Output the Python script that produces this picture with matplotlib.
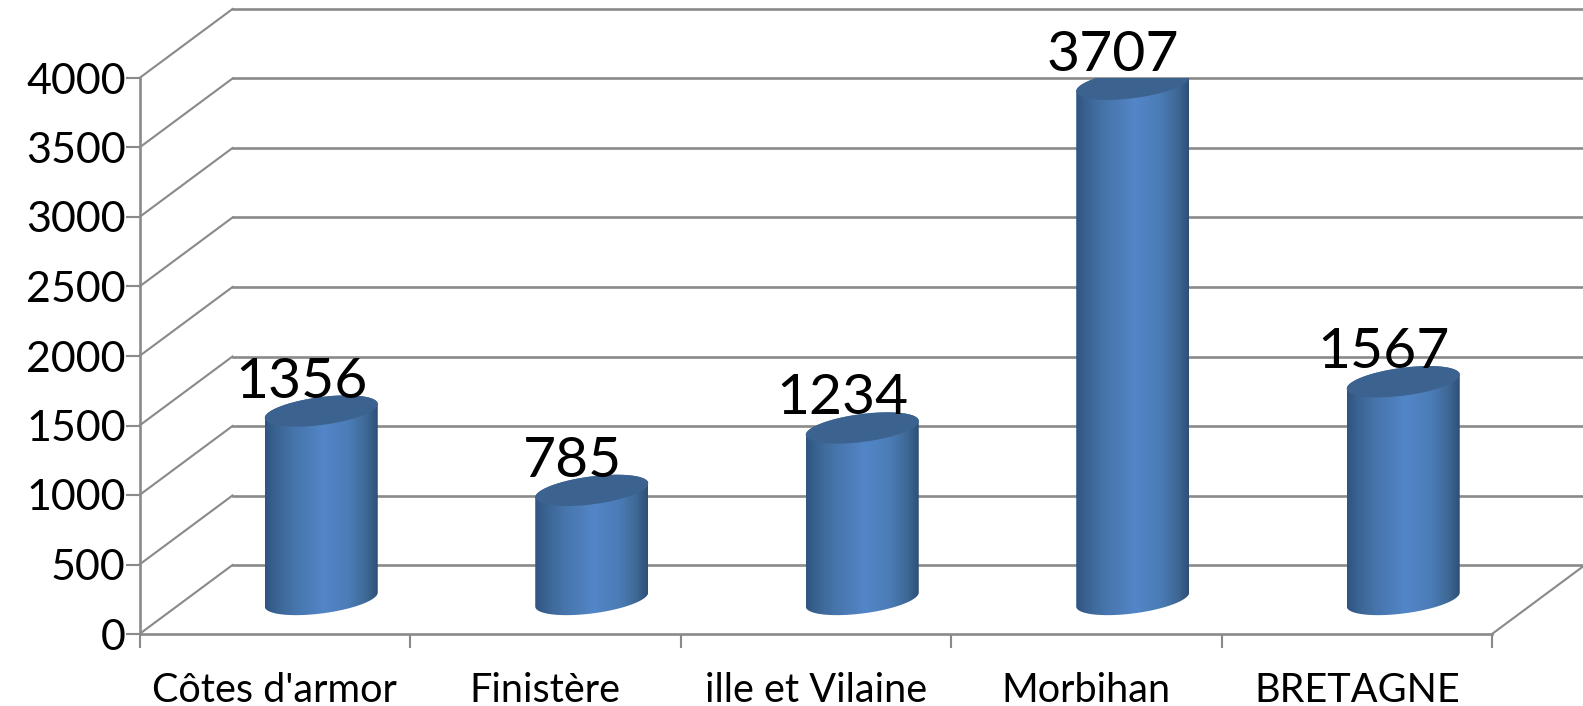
# -*- coding: utf-8 -*-
# 3D-look cylinder chart, Bretagne departments
import numpy as np
import matplotlib
matplotlib.use('Agg')
import matplotlib.pyplot as plt
from matplotlib.colors import LinearSegmentedColormap
from matplotlib.patches import PathPatch
from matplotlib.path import Path
from matplotlib.transforms import Affine2D

plt.rcParams['font.family'] = ['Lato', 'DejaVu Sans']

categories = ["Côtes d'armor", "Finistère", "ille et Vilaine", "Morbihan", "BRETAGNE"]
values = [1356, 785, 1234, 3707, 1567]
y_ticks = [0, 500, 1000, 1500, 2000, 2500, 3000, 3500, 4000]

W, H = 1583, 706
DEPTH_X, DEPTH_Y = 93.0, 69.0  # px, front plane to back wall
GRID = '#8a8a8a'
LW = 1.9

fig = plt.figure(figsize=(W / 100, H / 100), dpi=100, facecolor='white')
left, right, y0, y4000 = 139.5, 1492.0, 634.0, 78.0
ax = fig.add_axes([left / W, 1 - y0 / H, (right - left) / W, (y0 - y4000) / H])
ax.patch.set_visible(False)

back_tr = ax.transData + Affine2D().translate(DEPTH_X, DEPTH_Y)
mid_tr = ax.transData + Affine2D().translate(DEPTH_X / 2, DEPTH_Y / 2)

n = len(categories)
px_x = (right - left) / n
px_y = (y0 - y4000) / 4000.0

# back wall lines and the diagonals on the side wall
for v in y_ticks:
    ax.plot([0, n], [v, v], color=GRID, lw=LW, transform=back_tr, clip_on=False, zorder=1)
    ax.plot([0, DEPTH_X / px_x], [v, v + DEPTH_Y / px_y], color=GRID, lw=LW * 0.8,
            clip_on=False, zorder=1)
# floor, right edge
ax.plot([n, n + DEPTH_X / px_x], [0, DEPTH_Y / px_y], color=GRID, lw=LW * 0.8,
        clip_on=False, zorder=1)

# cylinders
cmap = LinearSegmentedColormap.from_list('cyl', [
    (0.0, '#2f5480'), (0.10, '#3a6492'), (0.25, '#4674aa'), (0.52, '#5386c8'),
    (0.75, '#4b7cb6'), (0.90, '#3e6895'), (1.0, '#2d4f76')])
grad = np.linspace(0, 1, 256).reshape(1, -1)
half_w = 56.5 / px_x
b_px, s_px = 14.0, 7.0
t = np.linspace(0, 2 * np.pi, 121)
for i, v in enumerate(values):
    cx = i + 0.5
    ex = half_w * np.cos(t)
    ey = (b_px * np.sin(t) + s_px * np.cos(t)) / px_y
    # body outline: lower half of base ellipse, then up to top ellipse
    low = t[60:121]  # from left side round the bottom to the right side
    xb = cx + half_w * np.cos(low)
    yb = (b_px * np.sin(low) + s_px * np.cos(low)) / px_y
    up = np.linspace(0, np.pi, 61)
    xt = cx + half_w * np.cos(up)
    yt = v + (b_px * np.sin(up) + s_px * np.cos(up)) / px_y
    body = Path(np.column_stack([np.r_[xb, xt], np.r_[yb, yt]]))
    clip = PathPatch(body, transform=mid_tr, facecolor='none', edgecolor='none')
    ax.add_patch(clip)
    im = ax.imshow(grad, cmap=cmap, aspect='auto', interpolation='bilinear',
                   extent=(cx - half_w, cx + half_w, -200, v + 200),
                   transform=mid_tr, zorder=3)
    im.set_clip_path(clip)
    ax.fill(cx + ex, v + ey, color='#3c628f', lw=0, transform=mid_tr, zorder=4)
    ax.annotate(str(v), xy=(cx, v), xytext=(27, 48), textcoords='offset pixels',
                ha='center', va='baseline', fontsize=41, color='black',
                annotation_clip=False, zorder=5)

ax.set_xlim(0, n)
ax.set_ylim(0, 4000)

for side in ['top', 'right']:
    ax.spines[side].set_visible(False)
for side in ['left', 'bottom']:
    ax.spines[side].set_color(GRID)
    ax.spines[side].set_linewidth(LW)

ax.set_yticks(y_ticks)
ax.tick_params(axis='y', length=10, width=LW * 0.8, color=GRID, labelsize=31, pad=0,
               labelcolor='black')
ax.set_xticks(np.arange(n + 1))
ax.set_xticklabels([])
ax.set_xticks(np.arange(n) + 0.5, labels=categories, minor=True)
ax.tick_params(axis='x', which='major', length=10, width=LW * 0.8, color=GRID)
ax.tick_params(axis='x', which='minor', length=0, labelsize=28.5, pad=27, labelcolor='black')

fig.savefig('out.png', dpi=100)
